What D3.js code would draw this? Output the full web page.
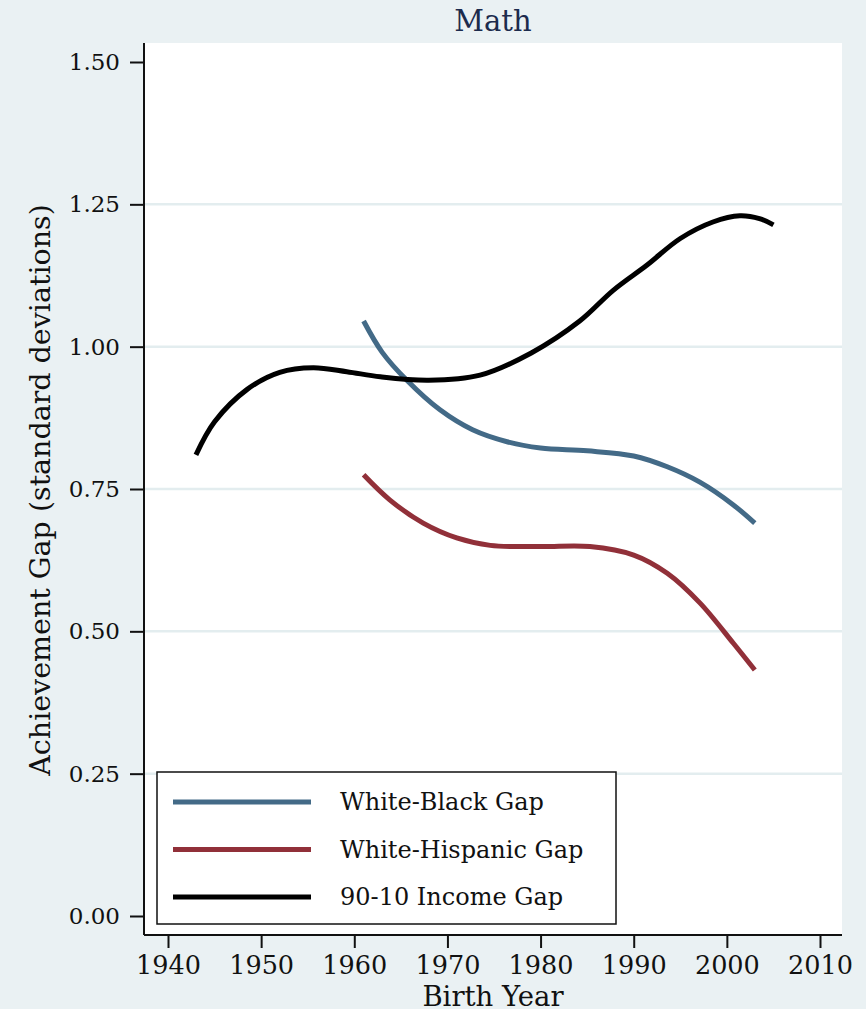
<!DOCTYPE html>
<html>
<head>
<meta charset="utf-8">
<script src="https://cdn.jsdelivr.net/npm/d3@7"></script>
<style>
  body { margin: 0; background: #eaf1f3; }
  svg { display: block; }
  .axis text { font-family: "DejaVu Serif", serif; fill: #111; }
  .axis path, .axis line { stroke: #111; stroke-width: 2; }
</style>
</head>
<body>
<div id="chart"></div>
<script>
// values
const blackGap = [
  [1943, 0.810], [1945, 0.868], [1948.5, 0.925], [1952, 0.955], [1955.6, 0.963],
  [1959.2, 0.956], [1962.8, 0.947], [1968, 0.941], [1973.5, 0.950], [1979, 0.989],
  [1984.2, 1.045], [1987.8, 1.099], [1991.4, 1.143], [1995, 1.190], [1998.5, 1.219],
  [2001.4, 1.230], [2003.5, 1.225], [2005, 1.214]
];
const blueGap = [
  [1961, 1.045], [1963, 0.990], [1965.7, 0.940], [1969.2, 0.889], [1972.7, 0.854],
  [1976.4, 0.833], [1980, 0.822], [1985, 0.817], [1990, 0.808], [1993.6, 0.789],
  [1997.1, 0.762], [2000.7, 0.722], [2003, 0.690]
];
const redGap = [
  [1961, 0.775], [1963.8, 0.731], [1967.4, 0.690], [1971, 0.664], [1974.6, 0.651],
  [1980, 0.649], [1985.3, 0.649], [1990, 0.634], [1993.6, 0.602], [1997.1, 0.550],
  [2000.7, 0.479], [2003, 0.432]
];
const seriesNames = ["White-Black Gap", "White-Hispanic Gap", "90-10 Income Gap"];
const seriesColors = ["#436a87", "#913039", "#000000"];
const yTicks = [0, 0.25, 0.5, 0.75, 1.0, 1.25, 1.5];
const xTicks = [1940, 1950, 1960, 1970, 1980, 1990, 2000, 2010];

let width = 866,
    height = 1009,
    plot = ({ left: 144, right: 842, top: 43, bottom: 935 });

const svg = d3.select("#chart")
  .append("svg")
  .attr("width", width)
  .attr("height", height);

svg.append("rect")
  .attr("width", width).attr("height", height)
  .attr("fill", "#eaf1f3");

svg.append("rect")
  .attr("x", plot.left).attr("y", plot.top)
  .attr("width", plot.right - plot.left)
  .attr("height", plot.bottom - plot.top)
  .attr("fill", "#ffffff");

let x = d3.scaleLinear()
  .domain([1940, 2010])
  .range([168, 820]);

let y = d3.scaleLinear()
  .domain([0, 1.5])
  .range([916, 62]);

// gridlines
svg.append("g")
  .selectAll("line")
  .data(yTicks.filter(d => d > 0 && d < 1.5))
  .join("line")
  .attr("x1", plot.left).attr("x2", plot.right)
  .attr("y1", d => y(d)).attr("y2", d => y(d))
  .attr("stroke", "#e3edef")
  .attr("stroke-width", 2.5);

// axes
const yAxis = svg.append("g")
  .attr("class", "axis")
  .attr("transform", `translate(${plot.left},0)`)
  .call(d3.axisLeft(y).tickValues(yTicks).tickFormat(d3.format(".2f")).tickSize(14).tickPadding(10));
yAxis.select(".domain").attr("d", `M0,${plot.top}V${plot.bottom}`);
yAxis.selectAll("text").attr("font-size", 23);

const xAxis = svg.append("g")
  .attr("class", "axis")
  .attr("transform", `translate(0,${plot.bottom})`)
  .call(d3.axisBottom(x).tickValues(xTicks).tickFormat(d3.format("d")).tickSize(13).tickPadding(8));
xAxis.select(".domain").attr("d", `M${plot.left},0H${plot.right}`);
xAxis.selectAll("text").attr("font-size", 25.5);

// lines
const line = d3.line()
  .x(d => x(d[0]))
  .y(d => y(d[1]))
  .curve(d3.curveCatmullRom.alpha(0.5));

[blueGap, redGap, blackGap].forEach((data, i) => {
  svg.append("path")
    .datum(data)
    .attr("d", line)
    .attr("fill", "none")
    .attr("stroke", seriesColors[i])
    .attr("stroke-width", 5);
});

// titles
svg.append("text")
  .attr("x", (plot.left + plot.right) / 2)
  .attr("y", 31)
  .attr("text-anchor", "middle")
  .attr("font-family", "DejaVu Serif, serif")
  .attr("font-size", 29)
  .attr("fill", "#1c2b4d")
  .text("Math");

svg.append("text")
  .attr("x", (plot.left + plot.right) / 2)
  .attr("y", 1006)
  .attr("text-anchor", "middle")
  .attr("font-family", "DejaVu Serif, serif")
  .attr("font-size", 27.5)
  .attr("fill", "#111")
  .text("Birth Year");

svg.append("text")
  .attr("transform", `translate(50,490) rotate(-90)`)
  .attr("text-anchor", "middle")
  .attr("font-family", "DejaVu Serif, serif")
  .attr("font-size", 28.5)
  .attr("fill", "#111")
  .text("Achievement Gap (standard deviations)");

// legend
const legend = svg.append("g");
legend.append("rect")
  .attr("x", 157).attr("y", 772)
  .attr("width", 459).attr("height", 152)
  .attr("fill", "#ffffff")
  .attr("stroke", "#111")
  .attr("stroke-width", 1.5);

const items = legend.selectAll(".item")
  .data(seriesNames)
  .join("g")
  .attr("class", "item")
  .attr("transform", (d, i) => `translate(0,${802 + i * 47.5})`);

items.append("line")
  .attr("x1", 173).attr("x2", 311)
  .attr("stroke", (d, i) => seriesColors[i])
  .attr("stroke-width", 5);

items.append("text")
  .attr("x", 340)
  .attr("dy", "0.35em")
  .attr("font-family", "DejaVu Serif, serif")
  .attr("font-size", 24)
  .attr("fill", "#111")
  .text(d => d);
</script>
</body>
</html>
